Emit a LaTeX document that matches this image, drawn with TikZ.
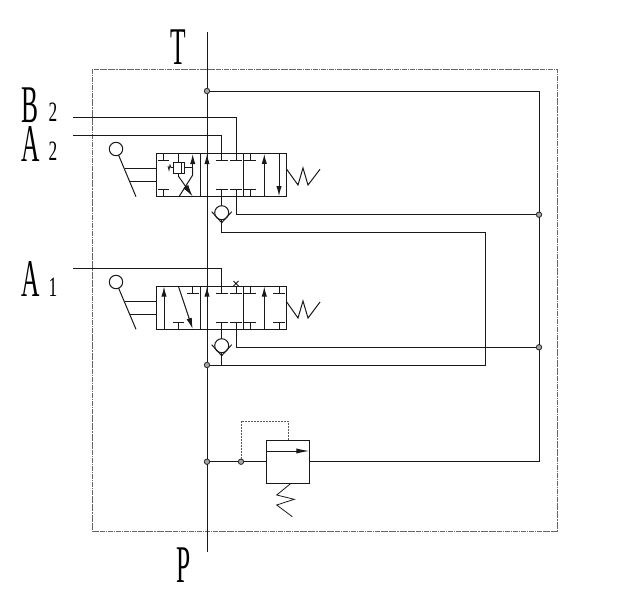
\documentclass[tikz,border=0pt]{standalone}
\usepackage{fontspec}
\setmainfont{Liberation Serif}
\usetikzlibrary{arrows.meta,calc}
\tikzset{
  ln/.style={line width=1pt,draw=black!90},
  thin ln/.style={line width=0.8pt,draw=black!90},
  body/.style={ln,rectangle,minimum width=129.3pt,minimum height=43.3pt,inner sep=0pt,outer sep=0pt},
  rbody/.style={ln,rectangle,minimum width=43.3pt,minimum height=43.3pt,inner sep=0pt,outer sep=0pt},
  lever/.style={ln,circle,minimum size=13.4pt,inner sep=0pt,outer sep=0pt},
  chk/.style={ln,circle,minimum size=14pt,inner sep=0pt,outer sep=0pt},
  dot/.style={line width=0.9pt,draw=black!80,fill=black!35,circle,minimum size=5.4pt,inner sep=0pt,outer sep=0pt},
  flow/.style={ln,-{Latex[length=10pt,width=5.2pt]}},
  frame/.style={line width=0.8pt,draw=black!60,dash pattern=on 5pt off 0.8pt on 1.5pt off 0.8pt},
  pilot/.style={line width=0.8pt,draw=black!65,dash pattern=on 2pt off 1pt},
  bigl/.style={inner sep=0pt,outer sep=0pt,font=\fontsize{53}{53}\selectfont},
  smalll/.style={inner sep=0pt,outer sep=0pt,font=\fontsize{28}{28}\selectfont},
}
\newcommand{\tall}[1]{\scalebox{0.48}[1]{#1}}
\newcommand{\tallnum}[1]{\scalebox{0.62}[1]{#1}}
\newcommand{\stub}[3]{\draw[ln] (#1,#2) -- (#1,#3) (#1-5.8,#3) -- (#1+5.8,#3);}
\begin{document}
\begin{tikzpicture}[x=1pt,y=-1pt]
\useasboundingbox (0,0) rectangle (640,610);
\fill[white] (0,0) rectangle (640,610);
\draw[frame] (92,69) rectangle (557,531);

% labels
\node[bigl] (lT) at (178,47.5) {\tall{T}};
\node[bigl] (lP) at (184,565) {\tall{P}};
\node[bigl] (lB) at (30,105) {\tall{B}};
\node[smalll] (lB2) at (53,112.5) {\tallnum{2}};
\node[bigl] (lA2) at (31,144.5) {\tall{A}};
\node[smalll] (lA22) at (53,151.5) {\tallnum{2}};
\node[bigl] (lA1) at (31,279.5) {\tall{A}};
\node[smalll] (lA12) at (53,287) {\tallnum{1}};

% bodies
\node[body] (v1) at (221.4,175) {};
\node[body] (v2) at (221.4,307.7) {};
\node[rbody] (rv) at (287.7,461.7) {};
\node[lever] (h1) at (116,149) {};
\node[lever] (h2) at (116,282) {};
\node[chk] (c1) at (221.7,212.7) {};
\node[chk] (c2) at (221.7,345.7) {};

% junctions
\node[dot] (jT) at (207,91) {};
\node[dot] (jR1) at (539,214.7) {};
\node[dot] (jR2) at (539,347.3) {};
\node[dot] (jT2) at (207,365) {};
\node[dot] (jP) at (207,461.7) {};
\node[dot] (jX) at (241,461.7) {};

% free ends
\coordinate (top) at (207,32);
\coordinate (bot) at (207,552);
\coordinate (eB2) at (73,117);
\coordinate (eA2) at (73,135);
\coordinate (eA1) at (73,268.3);
\coordinate (pB2) at (236,153.3);
\coordinate (pA2) at (221.7,153.3);
\coordinate (pA1) at (221.7,286);
\coordinate (pD1) at (236,196.7);
\coordinate (pD2) at (236,329.3);
\coordinate (pC1) at (221.7,196.7);
\coordinate (pC2) at (221.7,329.3);

% main lines
\draw[ln] (top) -- (jT) -- (jT2) -- (jP) -- (bot);
\draw[ln] (jT) -- (539,91) -- (jR1) -- (jR2) -- (539,461.7) -- (rv.east);
\draw[ln] (jP) -- (jX) -- (rv.west);
\draw[ln] (eB2) -- (236,117) -- (pB2);
\draw[ln] (eA2) -- (221.7,135) -- (pA2);
\draw[ln] (eA1) -- (221.7,268.3) -- (pA1);
\draw[ln] (pD1) -- (236,214.7) -- (jR1);
\draw[ln] (pD2) -- (236,347.3) -- (jR2);
\draw[ln] (pC1) -- (c1.north);
\draw[ln] (pC2) -- (c2.north);
\draw[ln] (c1.south) -- (221.7,232.5) -- (485,232.5) -- (485,365) -- (jT2);
\draw[ln] (c2.south) -- (221.7,365);
% check seats
\draw[ln] (211.7,211.7) -- (221.7,222.7) -- (231.7,211.7);
\draw[ln] (211.7,344.7) -- (221.7,355.7) -- (231.7,344.7);

% levers
\draw[ln] (h1) -- (136,196.7);
\draw[ln] (125,168.3) -- (v1.west|-125,168.3);
\draw[ln] (130,181.7) -- (v1.west|-130,181.7);
\draw[ln] (h2) -- (136,329.3);
\draw[ln] (125,301.7) -- (v2.west|-125,301.7);
\draw[ln] (130,314.3) -- (v2.west|-130,314.3);

% valve 1
\draw[ln] (200,153.3) -- (200,196.7) (243,153.3) -- (243,196.7);
\stub{163.5}{153.3}{160.5}\stub{163.5}{196.7}{189.5}
\stub{221.7}{153.3}{160.5}\stub{236}{153.3}{160.5}
\stub{221.7}{196.7}{189.5}\stub{236}{196.7}{189.5}
\stub{250}{153.3}{160.5}\stub{250}{196.7}{189.5}
\draw[flow] (192.7,168) -- (192.7,154);
\draw[flow] (207,170) -- (207,154);
\draw[flow] (264.3,196.7) -- (264.3,153.8);
\draw[flow] (279,153.3) -- (279,196.2);
\draw[thin ln] (173,162) rectangle (184,173) (181,162) -- (181,173);
\draw[thin ln] (184,167.5) -- (192.7,167.5);
\draw[thin ln] (173,167.5) -- (171,167.5) -- (170,165) -- (169,170) -- (168,166);
\draw[ln] (178.3,153.3) -- (178.3,162);
\draw[ln] (192.7,167.5) -- (192.7,175) -- (179,196.7);
\draw[ln] (178.3,173) -- (178.3,176);
\draw[ln,-{Latex[length=12pt,width=6pt]}] (178.3,176) -- (192.7,196.5);
\draw[ln] (286.7,169.3) -- (298,185) -- (303,168) -- (308,185) -- (320,169.3);

% valve 2
\draw[ln] (200,286) -- (200,329.3) (243,286) -- (243,329.3);
\stub{192.7}{286}{293.3}\stub{178.3}{329.3}{322}
\stub{221.7}{286}{293.3}\stub{236}{286}{293.3}
\stub{221.7}{329.3}{322}\stub{236}{329.3}{322}
\stub{250}{286}{293.3}\stub{250}{329.3}{322}
\stub{279}{286}{293.3}\stub{279}{329.3}{322}
\draw[flow] (164,329.3) -- (164,286.5);
\draw[flow] (207,303) -- (207,286.5);
\draw[flow] (264.3,329.3) -- (264.3,286.5);
\draw[ln,-{Latex[length=11pt,width=5.4pt]}] (178.3,286) -- (192.7,329);
\draw[thin ln] (233.5,281) -- (238.5,286) (238.5,281) -- (233.5,286);
\draw[ln] (286.7,302) -- (298,318) -- (303,301) -- (308,318) -- (320,302);

% relief valve
\draw[ln,-{Latex[length=13pt,width=5.2pt]}] (rv.west|-266,451) -- (rv.east|-309,451);
\draw[pilot] (jX) -- (241,421) -- (288,421) -- (288,440);
\draw[thin ln] (291,483.3) -- (276.7,495) -- (294.3,499.3) -- (276.7,505) -- (292.3,516.7);
\end{tikzpicture}
\end{document}
